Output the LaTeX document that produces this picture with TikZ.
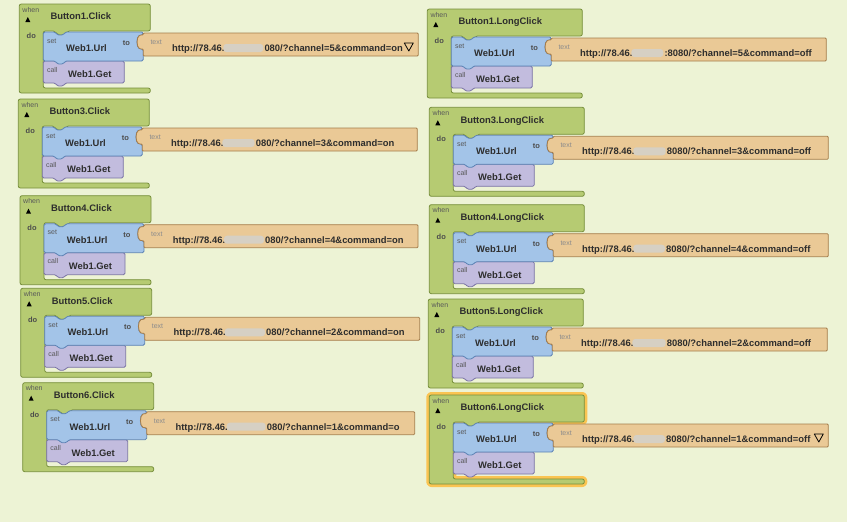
\documentclass[tikz,border=0pt]{standalone}
\usepackage{fontspec}
\setmainfont{Liberation Sans}
\definecolor{appbg}{RGB}{237,243,213}
\definecolor{evgreen}{RGB}{182,203,114}
\definecolor{evedge}{RGB}{118,142,58}
\definecolor{setblue}{RGB}{163,196,232}
\definecolor{setedge}{RGB}{92,130,180}
\definecolor{callpurple}{RGB}{194,188,222}
\definecolor{calledge}{RGB}{122,115,165}
\definecolor{texttan}{RGB}{234,201,150}
\definecolor{textedge}{RGB}{165,125,75}
\definecolor{glowc}{RGB}{250,196,82}
\definecolor{blurc}{RGB}{214,208,196}
\definecolor{inkc}{RGB}{45,45,45}
\tikzset{
  evblock/.style={fill=evgreen, draw=evedge, line width=0.8pt, rounded corners=2pt},
  setblock/.style={fill=setblue, draw=setedge, line width=0.8pt, rounded corners=1.5pt},
  callblock/.style={fill=callpurple, draw=calledge, line width=0.8pt, rounded corners=1.5pt},
  textblock/.style={fill=texttan, draw=textedge, line width=0.8pt, rounded corners=1pt},
  smalllbl/.style={inner sep=0pt, font=\fontsize{7}{8}\selectfont, text=black!65},
  dolbl/.style={inner sep=0pt, font=\fontsize{7.5}{9}\selectfont\bfseries, text=black!70},
  blocktext/.style={inner sep=0pt, font=\fontsize{9.4}{11}\selectfont\bfseries, text=inkc},
}
\begin{document}
\begin{tikzpicture}[x=1pt,y=-1pt]
    % 1. Nen
    \fill[appbg] (0,0) rectangle (847,522);
    \useasboundingbox (0,0) rectangle (847,522);

    % 2. Cac khoi "when ... do": goc trai tren (L,T), rong dau khoi W
    \foreach \L/\T/\W/\ev/\post/\px/\tw/\dd [count=\i] in {
        19.3/4/131/Button1.Click/{080/?channel=5\&command=on}/245/275/1,
        18.3/99/131/Button3.Click/{080/?channel=3\&command=on}/237.4/275/0,
        20/195.7/131/Button4.Click/{080/?channel=4\&command=on}/245/274/0,
        20.7/288.3/131/Button5.Click/{080/?channel=2\&command=on}/245.3/275/0,
        22.7/382.7/131/Button6.Click/{080/?channel=1\&command=o}/244/268/0,
        427.3/9/155/Button1.LongClick/{:8080/?channel=5\&command=off}/237/275/0,
        429.3/107.3/155/Button3.LongClick/{8080/?channel=3\&command=off}/237.4/275/0,
        429.3/204.7/155/Button4.LongClick/{8080/?channel=4\&command=off}/236.7/275/0,
        428.3/299/155/Button5.LongClick/{8080/?channel=2\&command=off}/238.4/275/0,
        429.3/395/155/Button6.LongClick/{8080/?channel=1\&command=off}/236.7/275/1}{
    \ifnum\i=10
        \tikzset{curglow/.style={preaction={draw=glowc, line width=6pt, line join=round}}}
    \else
        \tikzset{curglow/.style={}}
    \fi
    \begin{scope}[shift={(\L,\T)}]
        % khoi su kien (xanh la)
        \draw[evblock, curglow] (0,0) -- (\W,0) -- (\W,27) -- (48,27) -- (46,31) -- (38,31)
            -- (36,27) -- (24,27) -- (24,84) -- (\W,84) -- (\W,89) -- (0,89) -- cycle;
        % khoi call (tim)
        \draw[callblock] (24,57) -- (105,57) -- (105,79) -- (46,79) -- (44,82) -- (38,82)
            -- (36,79) -- (24,79) -- cycle;
        % khoi set (xanh duong) voi o cam ben phai
        \draw[setblock] (24,28) -- (36,28) -- (38,31) -- (44,31) -- (46,28) -- (124,28)
            -- (124,31) -- (121,31) .. controls (117,33) and (117,43) .. (121,45)
            -- (124,45) -- (124,57) -- (46,57) -- (44,60) -- (38,60) -- (36,57) -- (24,57) -- cycle;
        % khoi text (vang nau)
        \draw[textblock] (124,29) -- ({124+\tw},29) -- ({124+\tw},52) -- (124,52) -- (124,45)
            -- (121,45) .. controls (117,43) and (117,33) .. (121,31) -- (124,31) -- cycle;

        % nhan
        \node[smalllbl, anchor=north west] (when\i) at (3,3) {when};
        \fill[black] (6,18) -- (11,18) -- (8.5,13) -- cycle;
        \node[dolbl] (do\i) at (12,32) {do};
        \node[blocktext, anchor=base west] (ev\i) at (31,15.9) {\ev};
        \node[smalllbl, anchor=base west] (set\i) at (27.5,39) {set};
        \node[blocktext, anchor=base west] (url\i) at (46.7,47.4) {Web1.Url};
        \node[dolbl, anchor=base] (to\i) at (107,41.5) {to};
        \node[smalllbl, text=black!45, anchor=base west] (lbl\i) at (131,40.5) {text};
        \node[blocktext, anchor=base west] (pre\i) at (152.7,47.4) {http://78.46.};
        \fill[blurc, rounded corners=3pt] (204,40) rectangle ({\px-1},48);
        \node[blocktext, anchor=base west] (post\i) at (\px,47.4) {\post};
        \node[smalllbl, anchor=base west] (call\i) at (27.5,68) {call};
        \node[blocktext, anchor=base west] (get\i) at (48.7,73.4) {Web1.Get};
        \ifnum\dd=1
            \draw[line width=0.8pt, line join=round] (385,39) -- (394,39) -- (389.5,47) -- cycle;
        \fi
    \end{scope}
    }
\end{tikzpicture}
\end{document}
